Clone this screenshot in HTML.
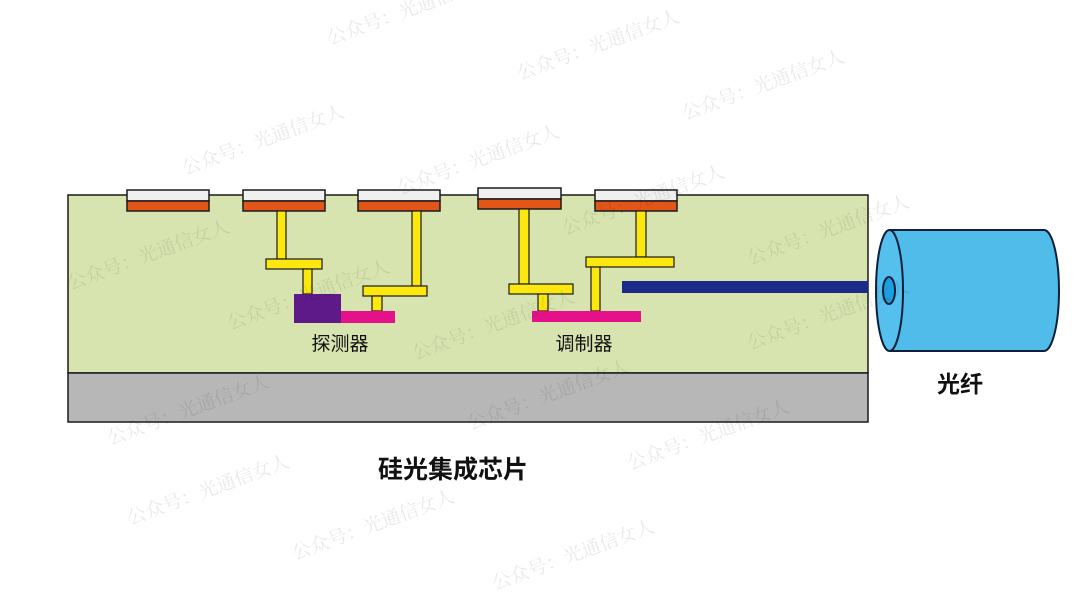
<!DOCTYPE html>
<html><head><meta charset="utf-8"><style>
html,body{margin:0;padding:0;background:#fff;}
body{width:1080px;height:607px;overflow:hidden;position:relative;}
</style></head><body>
<svg width="1080" height="607" viewBox="0 0 1080 607" xmlns="http://www.w3.org/2000/svg" style="position:absolute;left:0;top:0">
<g stroke="#1a1a1a" stroke-width="1.5">
<rect x="68" y="195" width="800" height="178" fill="#d8e4b0"/>
<rect x="68" y="373" width="800" height="49" fill="#b7b7b7"/>
<rect x="127" y="190" width="82" height="11" fill="#f0f0f0"/><rect x="127" y="201" width="82" height="10" fill="#e2561a"/>
<rect x="243" y="190" width="82" height="11" fill="#f0f0f0"/><rect x="243" y="201" width="82" height="10" fill="#e2561a"/>
<rect x="358" y="190" width="82" height="11" fill="#f0f0f0"/><rect x="358" y="201" width="82" height="10" fill="#e2561a"/>
<rect x="478" y="188" width="83" height="11" fill="#f0f0f0"/><rect x="478" y="199" width="83" height="10" fill="#e2561a"/>
<rect x="595" y="190" width="82" height="11" fill="#f0f0f0"/><rect x="595" y="201" width="82" height="10" fill="#e2561a"/>
</g>
<g stroke="#1a1a1a" stroke-width="1.2" fill="#fce80e">
<rect x="277" y="211" width="9" height="48"/>
<rect x="266" y="259" width="56" height="10"/>
<rect x="303" y="269" width="9" height="25"/>
<rect x="412" y="211" width="9" height="75"/>
<rect x="363" y="286" width="64" height="10"/>
<rect x="372" y="296" width="10" height="15"/>
<rect x="519" y="209" width="10" height="75"/>
<rect x="509" y="284" width="64" height="10"/>
<rect x="538" y="294" width="10" height="17"/>
<rect x="636" y="211" width="10" height="46"/>
<rect x="586" y="257" width="88" height="10"/>
<rect x="591" y="267" width="9" height="44"/>
</g>
<rect x="294" y="294" width="47" height="29" fill="#5f1a8a"/>
<rect x="341" y="311" width="54" height="12" fill="#e5118a"/>
<rect x="532" y="311" width="109" height="11" fill="#e5118a"/>
<rect x="622" y="281" width="246" height="12" fill="#1c2a8a"/>
<g stroke="#0d1f3a" stroke-width="2">
<path d="M889.5 230 L1044 230 A15 60.5 0 0 1 1044 351 L889.5 351" fill="#4fbcea"/>
<ellipse cx="889.5" cy="290.5" rx="13.5" ry="60.5" fill="#55c0ee"/>
<ellipse cx="889" cy="290.5" rx="6" ry="13.5" fill="#1aa0e0"/>
</g>
<g font-family="Liberation Sans, Noto Sans CJK SC, sans-serif">
<text x="340" y="350" font-size="19" text-anchor="middle" fill="#111">探测器</text>
<text x="584" y="350" font-size="19" text-anchor="middle" fill="#111">调制器</text>
<text x="960" y="392" font-size="23" font-weight="bold" text-anchor="middle" fill="#111">光纤</text>
<text x="453" y="478" font-size="25" font-weight="bold" text-anchor="middle" fill="#111">硅光集成芯片</text>
</g>
<g font-family="Noto Serif CJK SC, serif" font-size="19" fill="#000" fill-opacity="0.09">
<text transform="translate(330,45) rotate(-20)">公众号：光通信女人</text>
<text transform="translate(520,80) rotate(-20)">公众号：光通信女人</text>
<text transform="translate(685,120) rotate(-20)">公众号：光通信女人</text>
<text transform="translate(185,175) rotate(-20)">公众号：光通信女人</text>
<text transform="translate(400,195) rotate(-20)">公众号：光通信女人</text>
<text transform="translate(565,235) rotate(-20)">公众号：光通信女人</text>
<text transform="translate(750,265) rotate(-20)">公众号：光通信女人</text>
<text transform="translate(70,290) rotate(-20)">公众号：光通信女人</text>
<text transform="translate(230,330) rotate(-20)">公众号：光通信女人</text>
<text transform="translate(415,360) rotate(-20)">公众号：光通信女人</text>
<text transform="translate(750,350) rotate(-20)">公众号：光通信女人</text>
<text transform="translate(110,445) rotate(-20)">公众号：光通信女人</text>
<text transform="translate(470,430) rotate(-20)">公众号：光通信女人</text>
<text transform="translate(630,470) rotate(-20)">公众号：光通信女人</text>
<text transform="translate(130,525) rotate(-20)">公众号：光通信女人</text>
<text transform="translate(295,560) rotate(-20)">公众号：光通信女人</text>
<text transform="translate(495,590) rotate(-20)">公众号：光通信女人</text>
</g>
</svg>
</body></html>
